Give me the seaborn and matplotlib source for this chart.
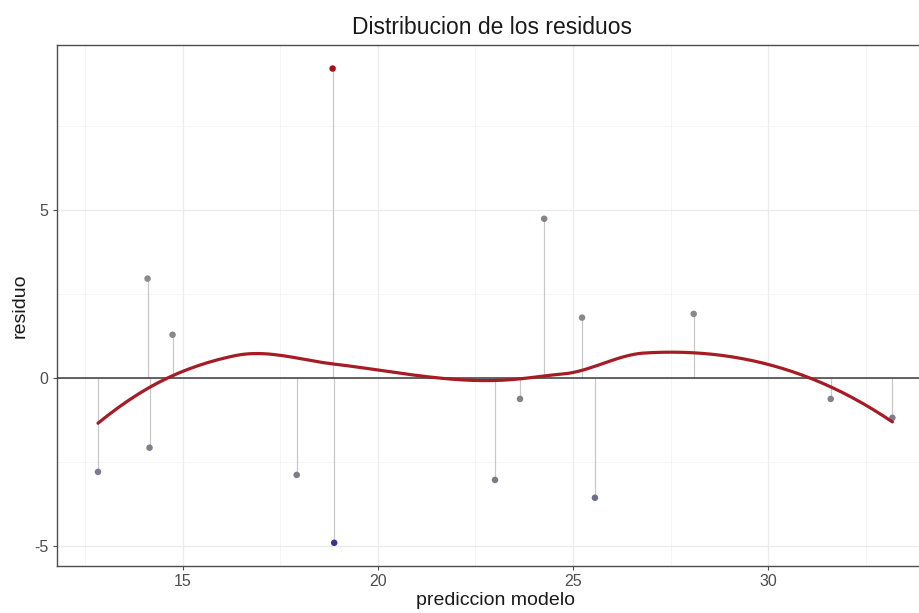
import numpy as np
import pandas as pd
import matplotlib
matplotlib.use("Agg")
import matplotlib.pyplot as plt
from matplotlib.colors import LinearSegmentedColormap, Normalize
from matplotlib.ticker import MultipleLocator
import seaborn as sns

# Model predictions and their residuals
prediccion = [12.83, 14.10, 14.15, 14.74, 17.92, 18.84, 18.88, 23.00,
              23.64, 24.26, 25.23, 25.56, 28.09, 31.60, 33.18]
residuo = [-2.80, 2.95, -2.08, 1.28, -2.89, 9.20, -4.91, -3.04,
           -0.63, 4.73, 1.79, -3.57, 1.90, -0.63, -1.19]

x_ticks = [15, 20, 25, 30]
y_ticks = [-5, 0, 5]

df = pd.DataFrame({"prediccion": prediccion, "residuo": residuo})


def local_fit(x, y, x0, q):
    """Weighted local quadratic at x0: returns value and slope."""
    d = np.abs(x - x0)
    h = np.sort(d)[q - 1]
    w = np.clip(1 - (d / h) ** 3, 0, None) ** 3
    X = np.column_stack([np.ones(len(x)), x - x0, (x - x0) ** 2])
    sw = np.sqrt(w)
    beta = np.linalg.lstsq(X * sw[:, None], y * sw, rcond=None)[0]
    return beta[0], beta[1]


def loess(x, y, x_eval, span=0.75, cell=0.2):
    """Loess with kd-tree vertices and cubic Hermite interpolation."""
    x = np.asarray(x, float)
    y = np.asarray(y, float)
    n = len(x)
    q = int(np.floor(n * span))
    fc = int(np.floor(n * span * cell))
    lo, hi = x.min(), x.max()
    mu = 0.005 * (hi - lo)
    verts = {lo - mu, hi + mu}

    def split(pts):
        if len(pts) <= fc:
            return
        pts = np.sort(pts)
        m = (len(pts) - 1) // 2
        t = 0.5 * (pts[m] + pts[m + 1])
        verts.add(t)
        split(pts[pts <= t])
        split(pts[pts > t])

    split(x)
    v = np.array(sorted(verts))
    fits = np.array([local_fit(x, y, vv, q) for vv in v])
    out = []
    for x0 in x_eval:
        i = min(max(np.searchsorted(v, x0) - 1, 0), len(v) - 2)
        x1, x2 = v[i], v[i + 1]
        hh = x2 - x1
        t = (x0 - x1) / hh
        h00 = 2 * t**3 - 3 * t**2 + 1
        h10 = t**3 - 2 * t**2 + t
        h01 = -2 * t**3 + 3 * t**2
        h11 = t**3 - t**2
        out.append(h00 * fits[i, 0] + h10 * hh * fits[i, 1]
                   + h01 * fits[i + 1, 0] + h11 * hh * fits[i + 1, 1])
    return np.array(out)


grid = np.linspace(min(prediccion), max(prediccion), 160)
smooth = pd.DataFrame({"prediccion": grid,
                       "residuo": loess(prediccion, residuo, grid)})

sns.set_theme(style="white")
plt.rcParams["font.family"] = ["Liberation Sans", "DejaVu Sans"]
plt.rcParams["axes.unicode_minus"] = False

fig = plt.figure(figsize=(9.2, 6.13), dpi=100)
ax = fig.add_axes([57 / 920, 47 / 613, 876 / 920, 521 / 613])

# grid lines (major and minor)
ax.xaxis.set_major_locator(MultipleLocator(5))
ax.xaxis.set_minor_locator(MultipleLocator(2.5))
ax.yaxis.set_major_locator(MultipleLocator(5))
ax.yaxis.set_minor_locator(MultipleLocator(2.5))
ax.grid(which="major", color="#ebebeb", linewidth=0.9)
ax.grid(which="minor", color="#f4f4f4", linewidth=0.6)
ax.set_axisbelow(True)

# residual segments from zero
ax.vlines(df["prediccion"], 0, df["residuo"], color="#c8c8c8",
          linewidth=0.9, zorder=2)
ax.axhline(0, color="#3a3a3a", linewidth=1.1, zorder=3)

cmap = LinearSegmentedColormap.from_list(
    "res", [(0.0, "#34348c"), (0.12, "#7a7a8c"), (0.55, "#8c8c8c"),
            (0.75, "#8c7e82"), (1.0, "#a8101c")])
sns.scatterplot(data=df, x="prediccion", y="residuo", hue="residuo",
                palette=cmap, hue_norm=Normalize(-5, 9.2), s=22,
                edgecolor="none", legend=False, ax=ax, zorder=4)

sns.lineplot(data=smooth, x="prediccion", y="residuo", color="#a61c24",
             linewidth=2.3, ax=ax, zorder=5)

ax.set_xlim(11.78, 34.22)
ax.set_ylim(-5.6, 9.9)
ax.set_xticks(x_ticks)
ax.set_yticks(y_ticks)

for s in ax.spines.values():
    s.set_color("#4d4d4d")
    s.set_linewidth(1.0)

ax.tick_params(axis="both", which="major", length=3, width=0.8,
               color="#4d4d4d", labelcolor="#4d4d4d", labelsize=11.5,
               bottom=True, left=True, pad=3)
ax.tick_params(which="minor", length=0)

ax.set_xlabel("prediccion modelo", fontsize=14, color="#1a1a1a", labelpad=2)
ax.set_ylabel("residuo", fontsize=14, color="#1a1a1a", labelpad=4)
fig.text(492 / 920, 1 - 27 / 613, "Distribucion de los residuos",
         ha="center", va="center", fontsize=16.5, color="#1a1a1a")

fig.savefig("out.png", dpi=100)
